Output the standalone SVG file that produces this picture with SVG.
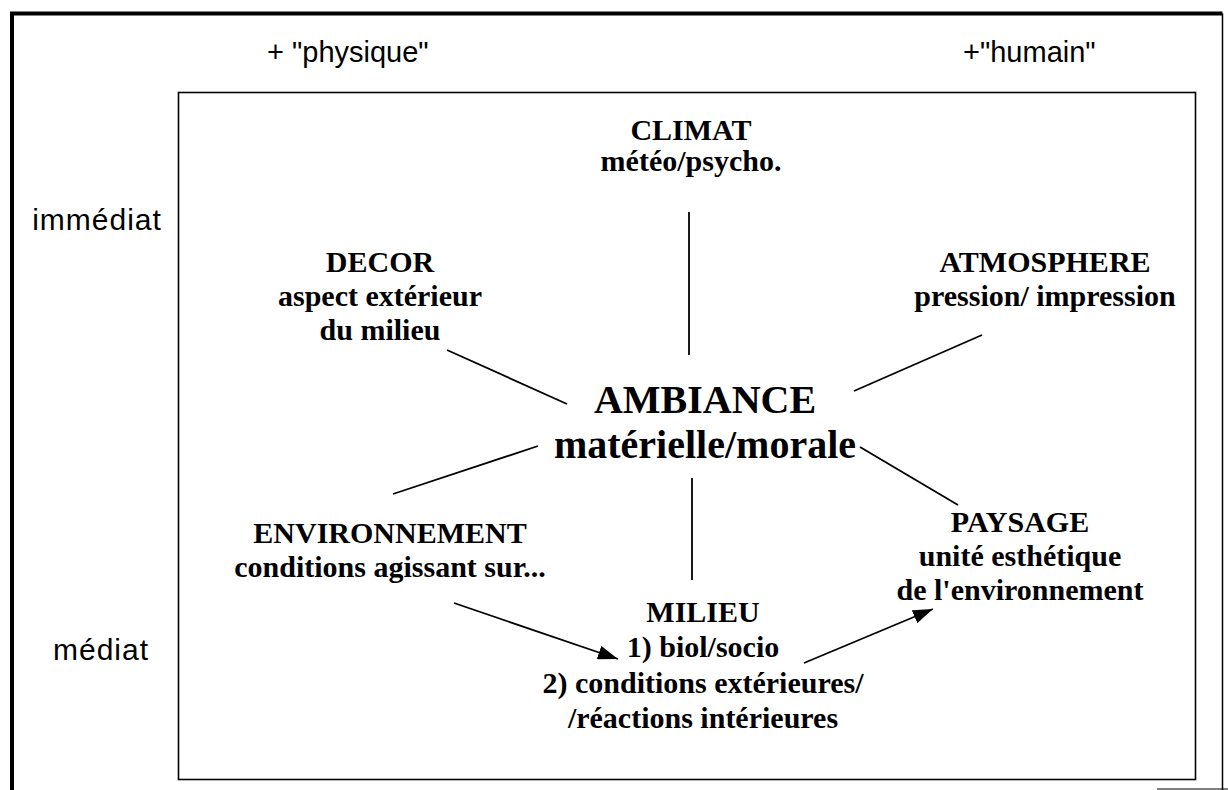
<svg xmlns="http://www.w3.org/2000/svg" width="1228" height="790" viewBox="0 0 1228 790">
<style>
.b{font-family:"Liberation Serif","Times New Roman",serif;font-weight:bold;font-size:30px;fill:#000;text-anchor:middle}
.big{font-size:40px}
.s{font-family:"Liberation Sans",Arial,sans-serif;font-size:29px;fill:#000}
.side{font-size:30px;letter-spacing:1px;text-anchor:middle}
.ln{stroke:#000;stroke-width:1.8;fill:none}
</style>
<defs>
<marker id="ah" markerWidth="22" markerHeight="14" refX="20" refY="7" orient="auto" markerUnits="userSpaceOnUse">
<path d="M0,0 L20,7 L0,14 Z" fill="#000"/>
</marker>
</defs>
<rect width="1228" height="790" fill="#fff"/>
<g id="frame">
<path d="M12,790 L12,13.5 L1222.5,13.5" stroke="#000" stroke-width="4" fill="none"/>
<path d="M1222.5,13.5 L1222.5,790" stroke="#000" stroke-width="1.5" fill="none"/>
<path d="M1157,789 L1228,789" stroke="#000" stroke-width="1.2" fill="none"/>
<rect x="178.5" y="92.5" width="1017" height="687" stroke="#000" stroke-width="1.6" fill="none"/>
</g>
<g id="axes">
<text class="s" x="267" y="62">+ "physique"</text>
<text class="s" x="963" y="62">+"humain"</text>
<text class="s side" x="97" y="230">immédiat</text>
<text class="s side" x="101" y="660">médiat</text>
</g>
<g id="connectors">
<line class="ln" x1="689" y1="212" x2="689" y2="355"/>
<line class="ln" x1="447" y1="350" x2="567" y2="404"/>
<line class="ln" x1="854" y1="391" x2="982" y2="335"/>
<line class="ln" x1="393" y1="494" x2="538" y2="446"/>
<line class="ln" x1="692" y1="478" x2="692" y2="580"/>
<line class="ln" x1="860" y1="447" x2="958" y2="505"/>
<line class="ln" x1="454" y1="603" x2="618" y2="659" marker-end="url(#ah)"/>
<line class="ln" x1="804" y1="663" x2="933" y2="609" marker-end="url(#ah)"/>
</g>
<g id="climat">
<text class="b" x="691" y="140">CLIMAT</text>
<text class="b" x="691" y="171">météo/psycho.</text>
</g>
<g id="decor">
<text class="b" x="380" y="272">DECOR</text>
<text class="b" x="380" y="306">aspect extérieur</text>
<text class="b" x="380" y="340">du milieu</text>
</g>
<g id="atmosphere">
<text class="b" x="1045" y="272">ATMOSPHERE</text>
<text class="b" x="1045" y="306">pression/ impression</text>
</g>
<g id="ambiance">
<text class="b big" x="705" y="413">AMBIANCE</text>
<text class="b big" x="705" y="458">matérielle/morale</text>
</g>
<g id="environnement">
<text class="b" x="390" y="543">ENVIRONNEMENT</text>
<text class="b" x="390" y="577">conditions agissant sur...</text>
</g>
<g id="paysage">
<text class="b" x="1020" y="532">PAYSAGE</text>
<text class="b" x="1020" y="566">unité esthétique</text>
<text class="b" x="1020" y="600">de l'environnement</text>
</g>
<g id="milieu">
<text class="b" x="703" y="622">MILIEU</text>
<text class="b" x="703" y="657">1) biol/socio</text>
<text class="b" x="703" y="693">2) conditions extérieures/</text>
<text class="b" x="703" y="728">/réactions intérieures</text>
</g>
</svg>
